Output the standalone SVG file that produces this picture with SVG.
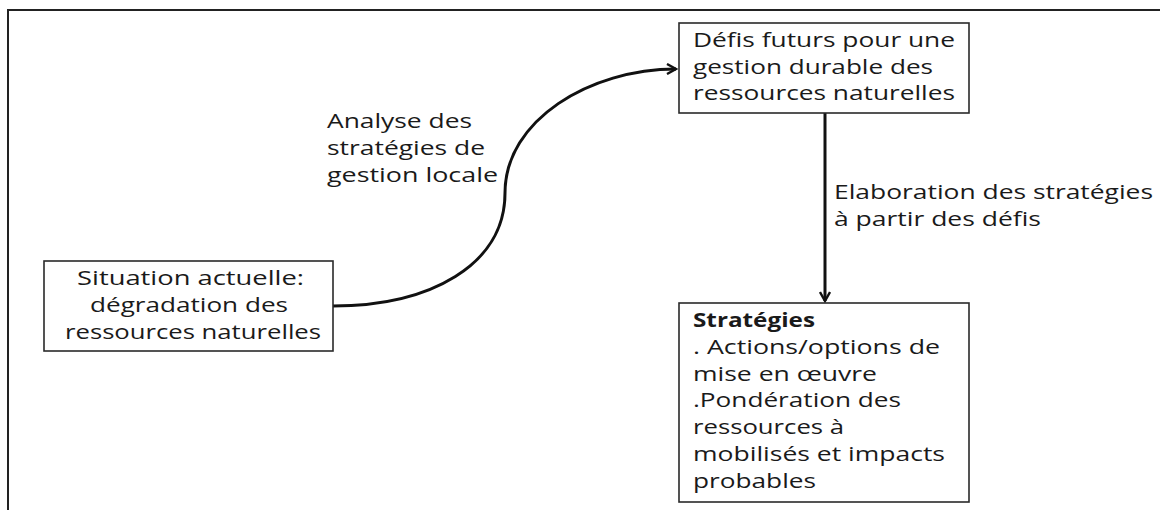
<svg xmlns="http://www.w3.org/2000/svg" width="1160" height="510" viewBox="0 0 1160 510">
<style>
.box{fill:#fff;stroke:#2a2a2a;stroke-width:1.6}
.t{font-family:"Open Sans",Lato,"Liberation Sans",sans-serif;font-size:20px;fill:#1a1a1a}
.b{font-weight:bold}
.c{fill:none;stroke:#111;stroke-width:3}
</style>
<defs>
<marker id="ah" viewBox="0 0 12 12" refX="10.5" refY="6" markerWidth="12" markerHeight="12" markerUnits="userSpaceOnUse" orient="auto">
<path d="M1.5,1 L10.5,6 L1.5,11" fill="none" stroke="#111" stroke-width="2.4"/>
</marker>
</defs>
<rect width="1160" height="510" fill="#fff"/>
<path d="M8,510 V10 H1160" fill="none" stroke="#222" stroke-width="2"/>
<g id="connectors">
<path class="c" d="M333,306 C430,306 505,265 505,193 C505,120 590,69 676,69" marker-end="url(#ah)"/>
<path class="c" d="M825,113 V301" marker-end="url(#ah)"/>
<text class="t" x="327" y="128" textLength="145" lengthAdjust="spacingAndGlyphs">Analyse des</text>
<text class="t" x="327" y="155" textLength="158" lengthAdjust="spacingAndGlyphs">stratégies de</text>
<text class="t" x="327" y="182" textLength="171" lengthAdjust="spacingAndGlyphs">gestion locale</text>
<text class="t" x="834" y="199" textLength="319" lengthAdjust="spacingAndGlyphs">Elaboration des stratégies</text>
<text class="t" x="834" y="226" textLength="207" lengthAdjust="spacingAndGlyphs">à partir des défis</text>
</g>
<g id="situation">
<rect class="box" x="44" y="261" width="289" height="90"/>
<text class="t" x="77" y="285" textLength="227" lengthAdjust="spacingAndGlyphs">Situation actuelle:</text>
<text class="t" x="90" y="312" textLength="198" lengthAdjust="spacingAndGlyphs">dégradation des</text>
<text class="t" x="65" y="339" textLength="256" lengthAdjust="spacingAndGlyphs">ressources naturelles</text>
</g>
<g id="defis">
<rect class="box" x="679" y="23" width="290" height="90"/>
<text class="t" x="693" y="47" textLength="262" lengthAdjust="spacingAndGlyphs">Défis futurs pour une</text>
<text class="t" x="693" y="74" textLength="240" lengthAdjust="spacingAndGlyphs">gestion durable des</text>
<text class="t" x="693" y="100" textLength="262" lengthAdjust="spacingAndGlyphs">ressources naturelles</text>
</g>
<g id="strategies">
<rect class="box" x="679" y="303" width="290" height="199"/>
<text class="t b" x="693" y="327" textLength="122" lengthAdjust="spacingAndGlyphs">Stratégies</text>
<text class="t" x="693" y="354" textLength="247" lengthAdjust="spacingAndGlyphs">. Actions/options de</text>
<text class="t" x="693" y="381" textLength="184" lengthAdjust="spacingAndGlyphs">mise en œuvre</text>
<text class="t" x="693" y="407" textLength="208" lengthAdjust="spacingAndGlyphs">.Pondération des</text>
<text class="t" x="693" y="434" textLength="151" lengthAdjust="spacingAndGlyphs">ressources à</text>
<text class="t" x="693" y="461" textLength="252" lengthAdjust="spacingAndGlyphs">mobilisés et impacts</text>
<text class="t" x="693" y="488" textLength="123" lengthAdjust="spacingAndGlyphs">probables</text>
</g>
</svg>
